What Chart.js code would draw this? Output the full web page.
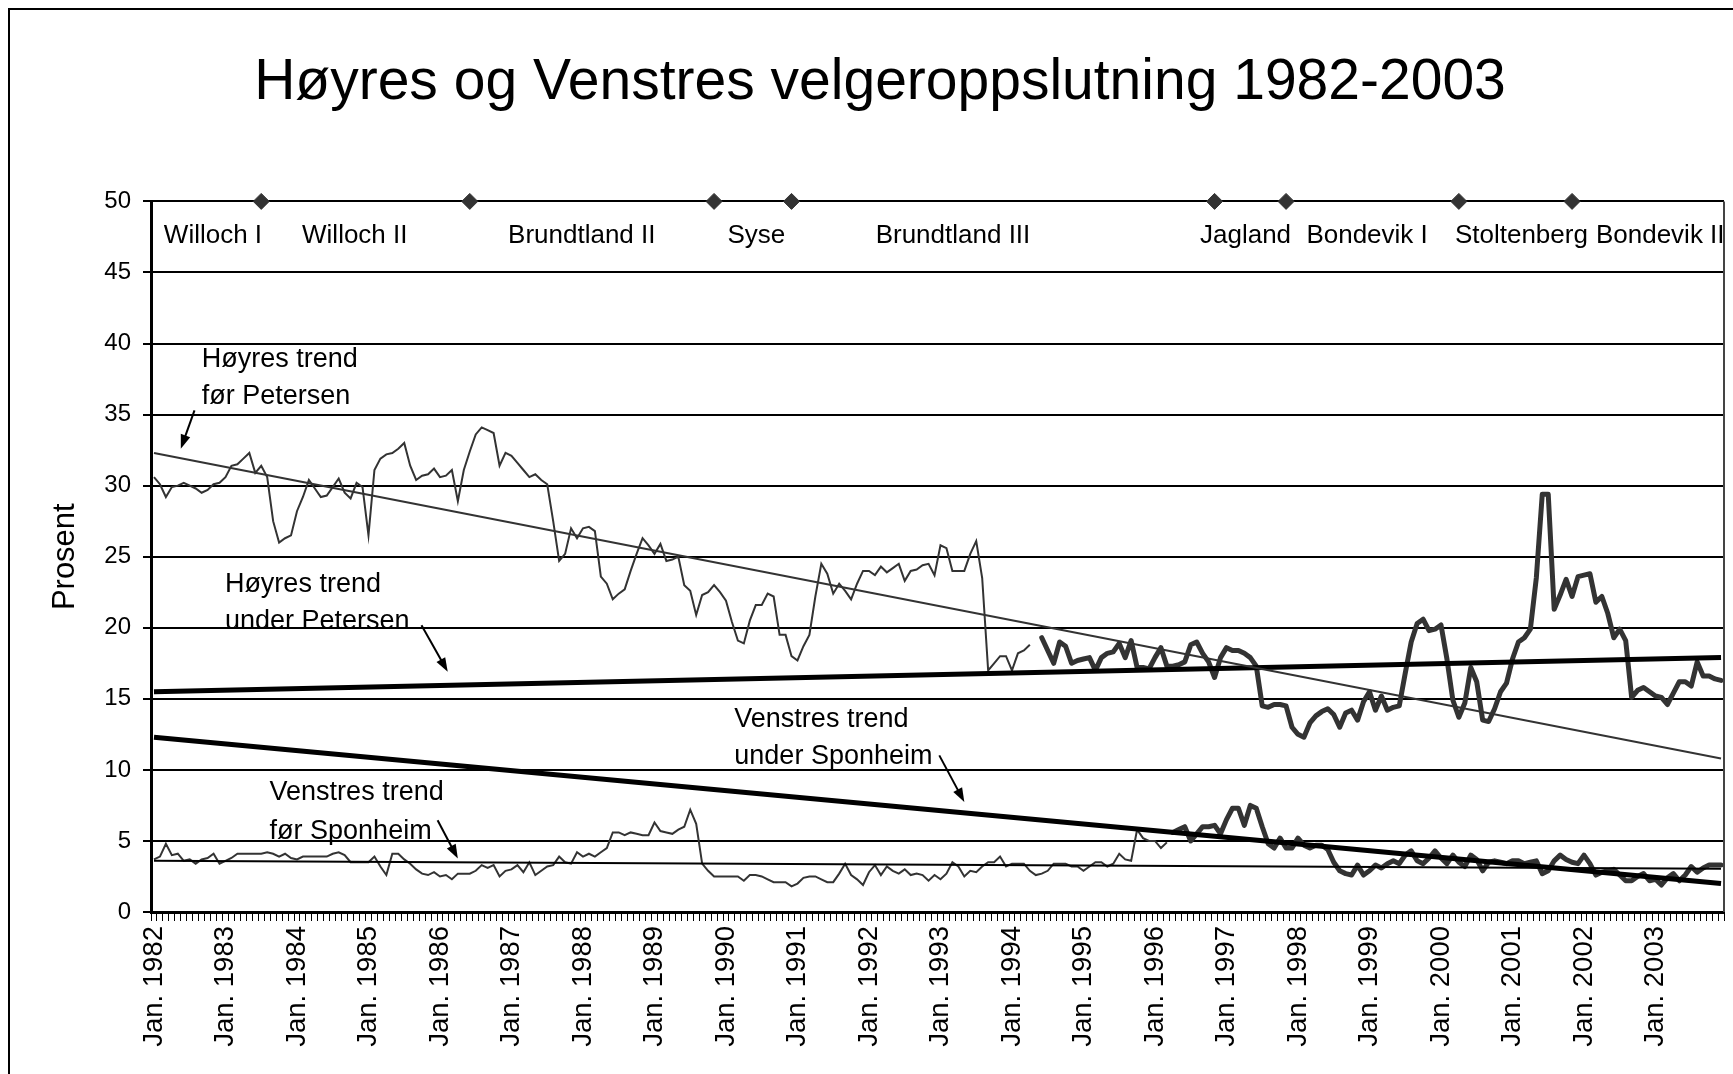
<!DOCTYPE html>
<html>
<head>
<meta charset="utf-8">
<script src="https://cdn.jsdelivr.net/npm/chart.js@4.4.1/dist/chart.umd.min.js"></script>
<style>
  html, body { margin: 0; padding: 0; background: #fff; }
  #wrap { width: 1733px; height: 1074px; }
</style>
</head>
<body>
<div id="wrap"><canvas id="velgerChart" width="1733" height="1074"></canvas></div>
<script>
// categories: one per month, Jan. 1982 - Des. 2003
const years = [1982, 1983, 1984, 1985, 1986, 1987, 1988, 1989, 1990, 1991, 1992,
               1993, 1994, 1995, 1996, 1997, 1998, 1999, 2000, 2001, 2002, 2003];
const monthNames = ['Jan.', 'Feb.', 'Mar.', 'Apr.', 'Mai', 'Jun.', 'Jul.', 'Aug.', 'Sep.', 'Okt.', 'Nov.', 'Des.'];

// Høyre before Petersen (from Jan. 1982)
const hoyreFor = [
  30.6, 30.1, 29.2, 29.9, 30.0, 30.2, 30.0, 29.8, 29.5, 29.7, 30.1, 30.2,
  30.6, 31.4, 31.5, 31.9, 32.3, 30.9, 31.4, 30.6, 27.5, 26.0, 26.3, 26.5,
  28.2, 29.2, 30.4, 29.8, 29.2, 29.3, 29.9, 30.5, 29.5, 29.1, 30.2, 29.9,
  26.5, 31.1, 31.9, 32.2, 32.3, 32.6, 33.0, 31.4, 30.4, 30.7, 30.8, 31.2,
  30.6, 30.7, 31.1, 28.9, 31.1, 32.4, 33.6, 34.1, 33.9, 33.7, 31.4, 32.3,
  32.1, 31.6, 31.1, 30.6, 30.8, 30.4, 30.1, 27.5, 24.7, 25.2, 27.0, 26.3,
  27.0, 27.1, 26.8, 23.6, 23.1, 22.0, 22.4, 22.7, 24.0, 25.2, 26.3, 25.8,
  25.2, 25.9, 24.7, 24.8, 25.0, 23.0, 22.6, 20.9, 22.3, 22.5, 23.0, 22.5,
  21.9, 20.4, 19.1, 18.9, 20.5, 21.6, 21.6, 22.4, 22.2, 19.5, 19.5, 18.0,
  17.7, 18.7, 19.5, 22.2, 24.5, 23.8, 22.4, 23.1, 22.6, 22.0, 23.1, 24.0,
  24.0, 23.7, 24.3, 23.9, 24.2, 24.5, 23.3, 24.0, 24.1, 24.4, 24.5, 23.7,
  25.8, 25.6, 24.0, 24.0, 24.0, 25.2, 26.1, 23.5, 17.0, 17.5, 18.0, 18.0,
  17.0, 18.2, 18.4, 18.8
];
// Høyre under Petersen (from Jun. 1994)
const hoyreUnderStart = 149;
const hoyreUnder = [
  19.3, 18.4, 17.5, 19.0, 18.7, 17.5, 17.7,
  17.8, 17.9, 17.0, 17.9, 18.2, 18.3, 18.9, 17.9, 19.1, 17.2, 17.2, 17.1,
  17.9, 18.6, 17.3, 17.3, 17.4, 17.6, 18.8, 19.0, 18.2, 17.6, 16.5, 17.9,
  18.6, 18.4, 18.4, 18.2, 17.9, 17.3, 14.5, 14.4, 14.6, 14.6, 14.5, 13.0,
  12.5, 12.3, 13.3, 13.8, 14.1, 14.3, 13.9, 13.0, 14.0, 14.2, 13.5, 14.8,
  15.5, 14.2, 15.2, 14.2, 14.4, 14.5, 16.8, 19.0, 20.3, 20.6, 19.8, 19.9,
  20.2, 17.8, 14.9, 13.7, 14.7, 17.2, 16.2, 13.5, 13.4, 14.3, 15.5, 16.1,
  17.8, 19.0, 19.3, 19.9, 23.5, 29.4, 29.4, 21.3, 22.3, 23.4, 22.2, 23.6,
  23.7, 23.8, 21.8, 22.2, 21.0, 19.3, 19.9, 19.1, 15.1, 15.6, 15.8, 15.5,
  15.2, 15.1, 14.6, 15.4, 16.2, 16.2, 15.9, 17.6, 16.6, 16.6, 16.4, 16.3
];
// Venstre before Sponheim (from Jan. 1982)
const venstreFor = [
  3.7, 3.9, 4.8, 4.0, 4.1, 3.6, 3.7, 3.4, 3.7, 3.8, 4.1, 3.4,
  3.6, 3.8, 4.1, 4.1, 4.1, 4.1, 4.1, 4.2, 4.1, 3.9, 4.1, 3.8,
  3.7, 3.9, 3.9, 3.9, 3.9, 3.9, 4.1, 4.2, 4.0, 3.5, 3.5, 3.5,
  3.5, 3.9, 3.2, 2.6, 4.1, 4.1, 3.7, 3.4, 3.0, 2.7, 2.6, 2.8,
  2.5, 2.6, 2.3, 2.7, 2.7, 2.7, 2.9, 3.3, 3.1, 3.3, 2.5, 2.9,
  3.0, 3.3, 2.8, 3.5, 2.6, 2.9, 3.2, 3.3, 3.9, 3.5, 3.4, 4.2,
  3.9, 4.1, 3.9, 4.2, 4.5, 5.6, 5.6, 5.4, 5.6, 5.5, 5.4, 5.4,
  6.3, 5.7, 5.6, 5.5, 5.8, 6.0, 7.2, 6.2, 3.4, 2.9, 2.5, 2.5,
  2.5, 2.5, 2.5, 2.2, 2.6, 2.6, 2.5, 2.3, 2.1, 2.1, 2.1, 1.8,
  2.0, 2.4, 2.5, 2.5, 2.3, 2.1, 2.1, 2.7, 3.4, 2.6, 2.3, 1.9,
  2.8, 3.3, 2.6, 3.2, 2.9, 2.7, 3.0, 2.6, 2.7, 2.6, 2.2, 2.6,
  2.3, 2.7, 3.5, 3.2, 2.5, 2.9, 2.8, 3.2, 3.5, 3.5, 3.9, 3.2,
  3.4, 3.4, 3.4, 2.9, 2.6, 2.7, 2.9, 3.4, 3.4, 3.4, 3.2, 3.2,
  2.9, 3.2, 3.5, 3.5, 3.2, 3.4, 4.1, 3.7, 3.6, 5.8, 5.2, 5.0,
  5.0, 4.5, 4.9
];
// Venstre under Sponheim (from Apr. 1996)
const venstreUnderStart = 171;
const venstreUnder = [
  5.6, 5.8, 6.0, 5.0, 5.5, 6.0, 6.0, 6.1, 5.5,
  6.5, 7.3, 7.3, 6.1, 7.5, 7.3, 6.0, 4.8, 4.5, 5.2, 4.5, 4.5,
  5.2, 4.7, 4.5, 4.7, 4.7, 4.4, 3.5, 2.9, 2.7, 2.6, 3.3, 2.6,
  2.9, 3.3, 3.1, 3.4, 3.6, 3.4, 4.0, 4.3, 3.6, 3.4, 3.8, 4.3,
  3.8, 3.4, 4.0, 3.5, 3.2, 4.0, 3.7, 2.9, 3.5, 3.6, 3.5, 3.4,
  3.6, 3.6, 3.4, 3.5, 3.6, 2.7, 2.9, 3.6, 4.0, 3.7, 3.5, 3.4,
  4.0, 3.4, 2.6, 2.8, 2.9, 3.0, 2.6, 2.2, 2.2, 2.5, 2.7, 2.2,
  2.3, 1.9, 2.4, 2.7, 2.2, 2.6, 3.2, 2.8, 3.1, 3.3, 3.3, 3.3
];

// trend lines: value at first and last month
const hoyreTrendFor = [32.3, 10.8];
const hoyreTrendUnder = [15.5, 17.9];
const venstreTrendFor = [3.6, 3.05];
const venstreTrendUnder = [12.3, 2.0];

// government changes (month index) and names
const govChangeMonths = [18, 53, 94, 107, 178, 190, 219, 238];
const govNames = ['Willoch I', 'Willoch II', 'Brundtland II', 'Syse', 'Brundtland III',
                  'Jagland', 'Bondevik I', 'Stoltenberg', 'Bondevik II'];

const yTicks = [0, 5, 10, 15, 20, 25, 30, 35, 40, 45, 50];

const FONT = '"Liberation Sans", Arial, Helvetica, sans-serif';

const labels = years.flatMap(y => monthNames.map(m => m + ' ' + y));
const nMonths = labels.length;

function pad(values, start) {
    const out = new Array(nMonths).fill(null);
    values.forEach((v, k) => { out[start + k] = v; });
    return out;
}
function trend(ends) {
    return [{ x: labels[0], y: ends[0] }, { x: labels[nMonths - 1], y: ends[1] }];
}

function drawArrow(ctx, x1, y1, x2, y2) {
    const ang = Math.atan2(y2 - y1, x2 - x1);
    const len = 14, half = 5;
    ctx.beginPath();
    ctx.moveTo(x1, y1);
    ctx.lineTo(x2 - Math.cos(ang) * len * 0.8, y2 - Math.sin(ang) * len * 0.8);
    ctx.stroke();
    ctx.beginPath();
    ctx.moveTo(x2, y2);
    ctx.lineTo(x2 - Math.cos(ang) * len - Math.sin(ang) * half, y2 - Math.sin(ang) * len + Math.cos(ang) * half);
    ctx.lineTo(x2 - Math.cos(ang) * len + Math.sin(ang) * half, y2 - Math.sin(ang) * len - Math.cos(ang) * half);
    ctx.closePath();
    ctx.fill();
}

// government labels, trend notes, frames
const overlay = {
    id: 'overlay',
    afterDatasetsDraw(chart, args, opts) {
        const { ctx, chartArea, scales: { x, y } } = chart;
        ctx.save();
        // right edge of plot area
        ctx.strokeStyle = '#444';
        ctx.lineWidth = 2;
        ctx.beginPath();
        ctx.moveTo(chartArea.right, chartArea.top);
        ctx.lineTo(chartArea.right, chartArea.bottom);
        ctx.stroke();

        ctx.fillStyle = '#000';
        ctx.font = '26px ' + FONT;
        ctx.textAlign = 'center';
        ctx.textBaseline = 'middle';
        govNames.forEach((name, k) => {
            ctx.fillText(name, x.getPixelForValue(opts.govLabelAt[k]), y.getPixelForValue(opts.govLabelY));
        });

        ctx.font = '27px ' + FONT;
        ctx.textAlign = 'left';
        ctx.textBaseline = 'alphabetic';
        ctx.strokeStyle = '#000';
        ctx.lineWidth = 2;
        opts.notes.forEach(n => {
            const px = x.getPixelForValue(n.at[0]);
            ctx.fillText(n.lines[0], px, y.getPixelForValue(n.at[1]));
            ctx.fillText(n.lines[1], px, y.getPixelForValue(n.at[2]));
            drawArrow(ctx,
                x.getPixelForValue(n.arrow[0]), y.getPixelForValue(n.arrow[1]),
                x.getPixelForValue(n.arrow[2]), y.getPixelForValue(n.arrow[3]));
        });
        ctx.restore();
    },
    afterDraw(chart) {
        const { ctx } = chart;
        ctx.save();
        ctx.strokeStyle = '#000';
        ctx.lineWidth = 2;
        ctx.strokeRect(9, 9, chart.width + 20, chart.height + 20);
        ctx.restore();
    }
};

const thin = { borderColor: '#333', borderWidth: 2, pointRadius: 0, tension: 0, fill: false };
const thick = { borderColor: '#333', borderWidth: 5, pointRadius: 0, tension: 0, fill: false,
                borderJoinStyle: 'round', borderCapStyle: 'round' };

const ctx = document.getElementById('velgerChart').getContext('2d');
const velgerChart = new Chart(ctx, {
    type: 'line',
    data: {
        labels: labels,
        datasets: [
            {
                label: 'Regjeringsskifte',
                data: govChangeMonths.map(m => ({ x: labels[m], y: 50 })),
                showLine: false,
                pointStyle: 'rectRot',
                pointRadius: 8,
                backgroundColor: '#333',
                borderColor: '#333',
                clip: false
            },
            { label: 'Høyres trend før Petersen', data: trend(hoyreTrendFor), ...thin },
            { label: 'Høyres trend under Petersen', data: trend(hoyreTrendUnder), ...thick, borderColor: '#000', borderCapStyle: 'butt' },
            { label: 'Venstres trend før Sponheim', data: trend(venstreTrendFor), ...thin, borderColor: '#000' },
            { label: 'Venstres trend under Sponheim', data: trend(venstreTrendUnder), ...thick, borderColor: '#000', borderCapStyle: 'butt' },
            { label: 'Høyre før Petersen', data: pad(hoyreFor, 0), ...thin },
            { label: 'Høyre under Petersen', data: pad(hoyreUnder, hoyreUnderStart), ...thick },
            { label: 'Venstre før Sponheim', data: pad(venstreFor, 0), ...thin },
            { label: 'Venstre under Sponheim', data: pad(venstreUnder, venstreUnderStart), ...thick }
        ]
    },
    options: {
        responsive: false,
        animation: false,
        events: [],
        layout: { padding: { left: 34, right: 7, top: 0, bottom: 0 } },
        scales: {
            x: {
                type: 'category',
                offset: true,
                grid: {
                    display: true,
                    drawOnChartArea: false,
                    drawTicks: true,
                    tickLength: 9,
                    offset: true,
                    color: '#000',
                    lineWidth: 1
                },
                border: { display: true, color: '#000', width: 3 },
                ticks: {
                    autoSkip: false,
                    maxRotation: 90,
                    minRotation: 90,
                    padding: 5,
                    color: '#000',
                    font: { family: FONT, size: 27.5 },
                    callback: (val, i) => (i % 12 === 0 ? labels[i] : '')
                },
                afterFit: s => {
                    s.height = 162;
                    s.paddingLeft = 0;
                    s.paddingRight = 0;
                }
            },
            y: {
                min: 0,
                max: 50,
                afterBuildTicks: s => { s.ticks = yTicks.map(v => ({ value: v })); },
                grid: { color: '#000', lineWidth: 2, tickLength: 8 },
                border: { display: true, color: '#000', width: 3 },
                ticks: { padding: 12, color: '#000', font: { family: FONT, size: 24 } },
                title: {
                    display: true,
                    text: 'Prosent',
                    color: '#000',
                    font: { family: FONT, size: 31 },
                    padding: { top: 13, bottom: 0 }
                },
                afterFit: s => { s.width = 117; }
            }
        },
        plugins: {
            legend: { display: false },
            tooltip: { enabled: false },
            title: {
                display: true,
                text: 'Høyres og Venstres velgeroppslutning 1982-2003',
                color: '#000',
                font: { family: FONT, size: 57, weight: 'normal' },
                padding: { top: 49, bottom: 84 }
            },
            overlay: {
                govLabelY: 47.6,
                govLabelAt: [9.9, 33.7, 71.8, 101.1, 134.1, 183.2, 203.6, 229.5, 252.8],
                notes: [
                    { lines: ['Høyres trend', 'før Petersen'], at: [8.0, 38.35, 35.75], arrow: [6.8, 35.3, 4.5, 32.6] },
                    { lines: ['Høyres trend', 'under Petersen'], at: [11.9, 22.5, 19.93], arrow: [44.9, 20.17, 49.3, 16.9] },
                    { lines: ['Venstres trend', 'før Sponheim'], at: [19.4, 7.85, 5.16], arrow: [47.6, 6.45, 51.0, 3.76] },
                    { lines: ['Venstres trend', 'under Sponheim'], at: [97.4, 13.0, 10.43], arrow: [131.8, 11.02, 136.0, 7.74] }
                ]
            }
        }
    },
    plugins: [overlay]
});
</script>
</body>
</html>
